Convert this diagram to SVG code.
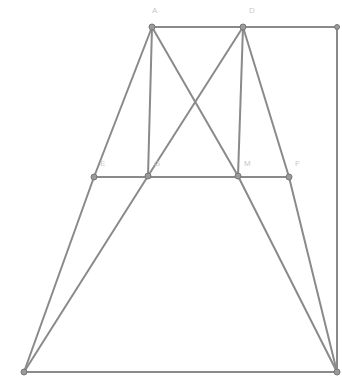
<svg xmlns="http://www.w3.org/2000/svg" width="342" height="378" viewBox="0 0 342 378">
<style>
.ln{stroke:#8a8a8a;stroke-width:2;fill:none;stroke-linejoin:round}
.pt{fill:#9a9a9a;stroke:#777;stroke-width:1}
.lb{font-family:"Liberation Sans",sans-serif;font-size:8px;fill:#c8c8c8}
</style>
<rect width="342" height="378" fill="#fff"/>
<g id="connectors">
<polyline class="ln" points="152,27 337,27 337,372 22,372"/>
<polyline class="ln" points="152,27 94,177 24,372"/>
<polyline class="ln" points="243,27 148,176 24,372"/>
<polyline class="ln" points="152,27 238,176 337,372"/>
<polyline class="ln" points="243,27 289,177 337,372"/>
<line class="ln" x1="152" y1="27" x2="148" y2="176"/>
<line class="ln" x1="243" y1="27" x2="238" y2="176"/>
<line class="ln" x1="94" y1="177" x2="289" y2="177"/>
</g>
<g id="nA"><circle class="pt" cx="152" cy="27" r="3"/><text class="lb" x="152" y="13">A</text></g>
<g id="nD"><circle class="pt" cx="243" cy="27" r="3"/><text class="lb" x="249" y="13">D</text></g>
<g id="nTR"><circle class="pt" cx="337" cy="27" r="2.5"/></g>
<g id="nE"><circle class="pt" cx="94" cy="177" r="3"/><text class="lb" x="100" y="166">E</text></g>
<g id="nG"><circle class="pt" cx="148" cy="176" r="3"/><text class="lb" x="154" y="166">G</text></g>
<g id="nM"><circle class="pt" cx="238" cy="176" r="3"/><text class="lb" x="244" y="166">M</text></g>
<g id="nF"><circle class="pt" cx="289" cy="177" r="3"/><text class="lb" x="295" y="166">F</text></g>
<g id="nB"><circle class="pt" cx="24" cy="372" r="3"/></g>
<g id="nC"><circle class="pt" cx="337" cy="372" r="3"/></g>
</svg>
